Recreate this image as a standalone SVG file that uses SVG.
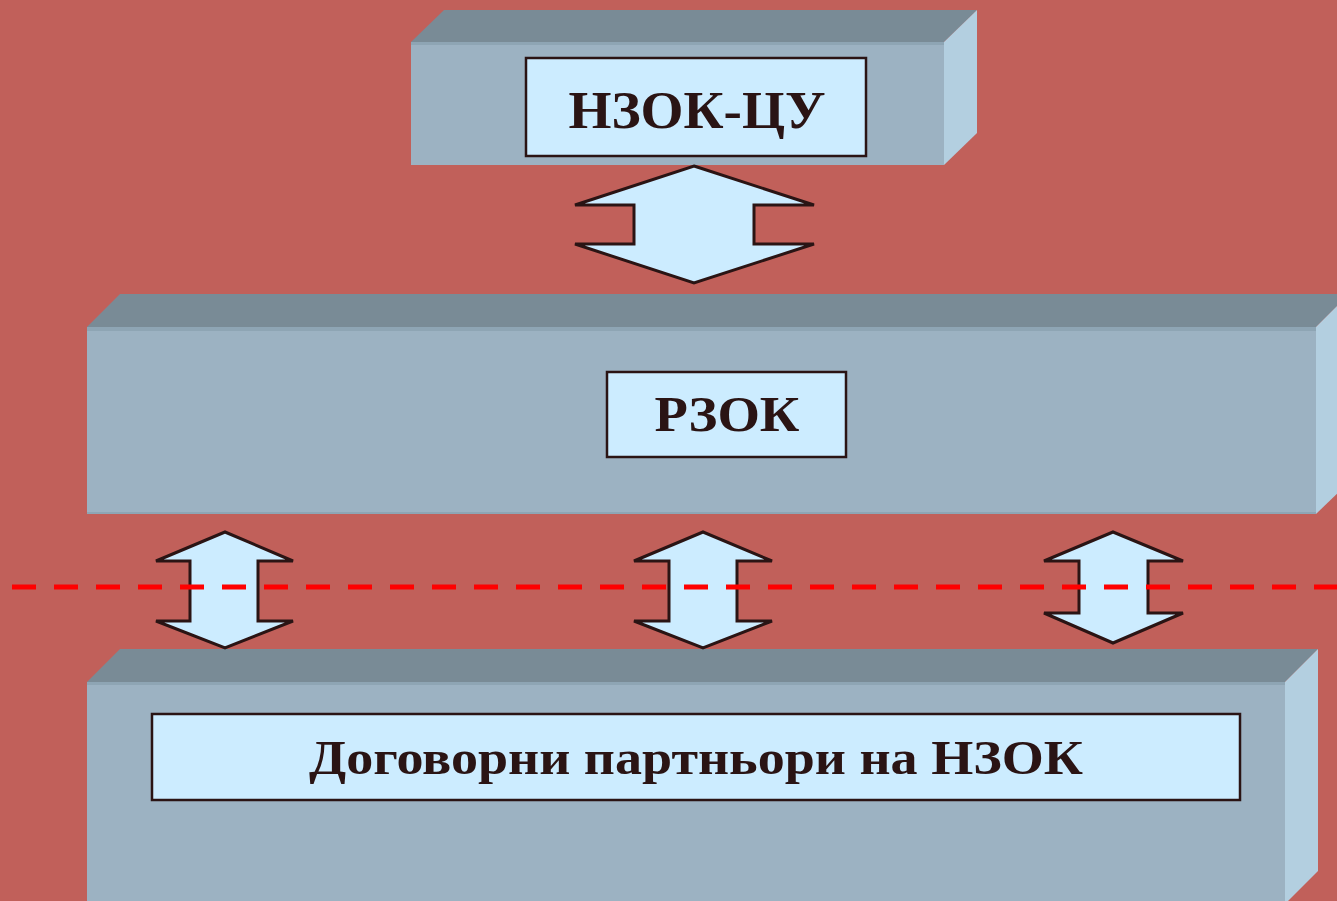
<svg xmlns="http://www.w3.org/2000/svg" width="1337" height="901" viewBox="0 0 1337 901">
<style>
.front{fill:#9CB2C2}
.top{fill:#798B96}
.side{fill:#B3CFE0}
.edge{fill:#8EA5B4}
.label{fill:#CCECFF;stroke:#2A1414;stroke-width:2.5}
.arrow{fill:#CCECFF;stroke:#2A1414;stroke-width:3;stroke-linejoin:miter}
.txt{font-family:"Liberation Serif","DejaVu Serif",serif;font-weight:bold;fill:#2A1414;text-anchor:middle}
</style>
<rect width="1337" height="901" fill="#C1605A"/>
<g id="nzok-cu">
<polygon class="top" points="411,42 444,10 977,10 944,42"/>
<polygon class="side" points="944,42 977,10 977,133 944,165"/>
<rect class="front" x="411" y="42" width="533" height="123"/>
<rect class="edge" x="411" y="42" width="533" height="3"/>
<rect class="label" x="526" y="58" width="340" height="98"/>
<text class="txt" x="697" y="128" font-size="52" textLength="257" lengthAdjust="spacingAndGlyphs">НЗОК-ЦУ</text>
</g>
<g id="rzok">
<polygon class="top" points="87,327 120,294 1349,294 1316,327"/>
<polygon class="side" points="1316,327 1349,294 1349,482 1316,514"/>
<rect class="front" x="87" y="327" width="1229" height="187"/>
<rect class="edge" x="87" y="327" width="1229" height="4"/>
<rect class="edge" x="87" y="512" width="1229" height="2"/>
<rect class="label" x="607" y="372" width="239" height="85"/>
<text class="txt" x="727" y="431" font-size="50" textLength="145" lengthAdjust="spacingAndGlyphs">РЗОК</text>
</g>
<g id="partners">
<polygon class="top" points="87,682 120,649 1318,649 1285,682"/>
<polygon class="side" points="1285,682 1318,649 1318,871 1285,904"/>
<rect class="front" x="87" y="682" width="1198" height="222"/>
<rect class="edge" x="87" y="682" width="1198" height="3"/>
<rect class="label" x="152" y="714" width="1088" height="86"/>
<text class="txt" x="696" y="774" font-size="48" textLength="774" lengthAdjust="spacingAndGlyphs">Договорни партньори на НЗОК</text>
</g>
<g id="connectors">
<polygon class="arrow" points="694,166 814,205 754,205 754,244 814,244 694,283 575,244 634,244 634,205 575,205"/>
<polygon class="arrow" points="225,532 293,561 258,561 258,621 293,621 225,648 156,621 190,621 190,561 156,561"/>
<polygon class="arrow" points="703,532 772,561 737,561 737,621 772,621 703,648 634,621 669,621 669,561 634,561"/>
<polygon class="arrow" points="1113,532 1183,561 1148,561 1148,613 1183,613 1113,643 1044,613 1079,613 1079,561 1044,561"/>
<line x1="12" y1="587" x2="1337" y2="587" stroke="#FF0000" stroke-width="5" stroke-dasharray="24 18"/>
</g>
</svg>
